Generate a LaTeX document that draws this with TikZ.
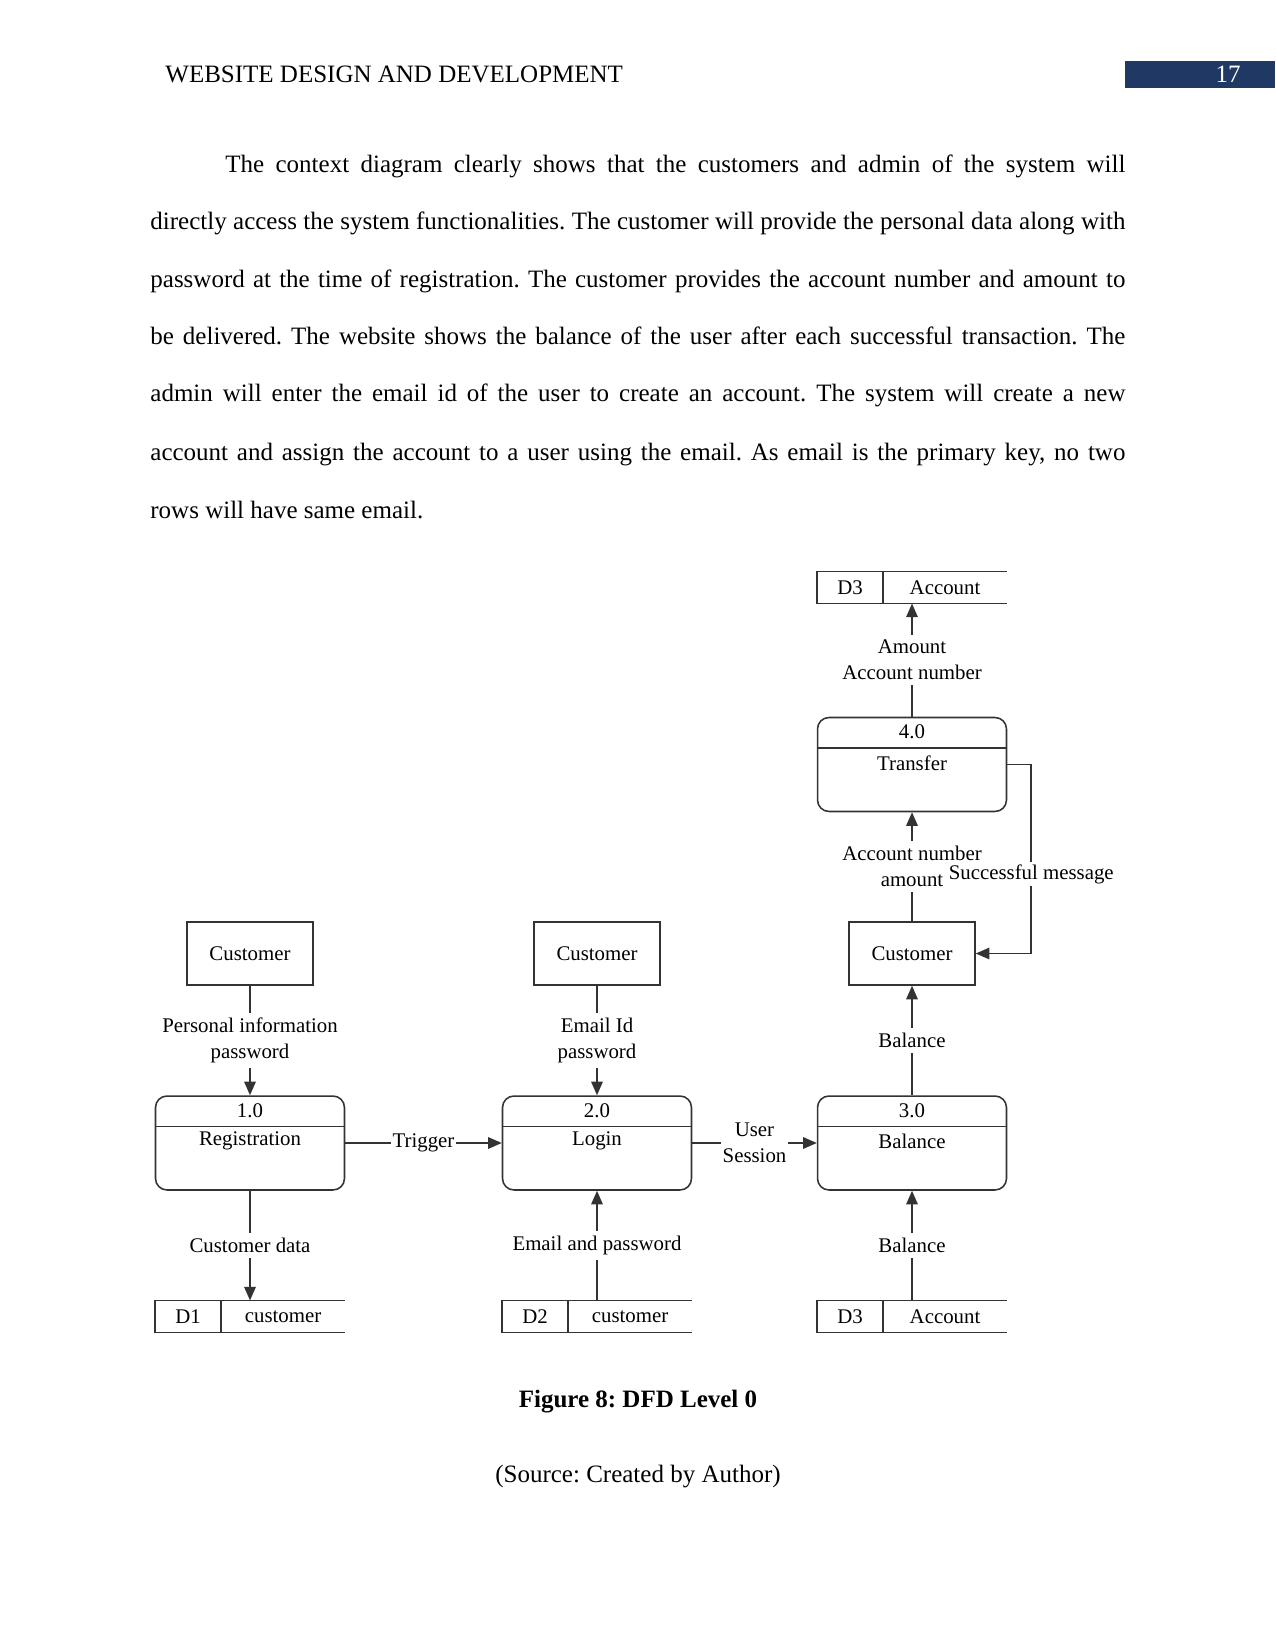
\documentclass[tikz,border=0pt]{standalone}
\usepackage{fontspec}
\setmainfont{Liberation Serif}
\usepackage{tikz}
\usetikzlibrary{positioning, arrows.meta, calc}
\definecolor{headbar}{HTML}{1F3864}
\definecolor{ink}{HTML}{333333}
\frenchspacing

\begin{document}
\begin{tikzpicture}[x=0.48pt, y=-0.48pt,
      every node/.style={font=\fontsize{10}{12.5}\selectfont, inner sep=0pt},
      body/.style={font=\fontsize{12}{14}\selectfont, anchor=base west},
      ext/.style={draw=ink, line width=0.75pt,
        minimum width=60.5pt, minimum height=30.2pt},
      proc/.style={draw=ink, line width=0.75pt, rounded corners=5.5pt,
        minimum width=90.7pt, minimum height=45.1pt},
      store/.style={minimum width=90.7pt, minimum height=15pt},
      line/.style={draw=ink, line width=0.75pt},
      flow/.style={line, -{Triangle[length=6.5pt, width=5.5pt]}},
      lbl/.style={fill=white, align=center, inner xsep=1pt, inner ysep=2.5pt}]

    \useasboundingbox (0,0) rectangle (1275,1650);

    \fill[headbar] (1125,61) rectangle (1275,88);
    \node[body] (runhead) at (165,83) {WEBSITE DESIGN AND DEVELOPMENT};
    \node[body, anchor=base, text=white] (pagenum) at (1228,83) {17};

    \node[body] (ln1) at (225,173) {\makebox[432pt][s]{The context diagram clearly shows that the customers and admin of the system will}};
    \node[body] (ln2) at (150,230) {\makebox[468pt][s]{directly access the system functionalities. The customer will provide the personal data along with}};
    \node[body] (ln3) at (150,288) {\makebox[468pt][s]{password at the time of registration. The customer provides the account number and amount to}};
    \node[body] (ln4) at (150,345) {\makebox[468pt][s]{be delivered. The website shows the balance of the user after each successful transaction. The}};
    \node[body] (ln5) at (150,402) {\makebox[468pt][s]{admin will enter the email id of the user to create an account. The system will create a new}};
    \node[body] (ln6) at (150,460) {\makebox[468pt][s]{account and assign the account to a user using the email. As email is the primary key, no two}};
    \node[body] (ln7) at (150,518) {rows will have same email.};

    \foreach \n/\x/\y/\num/\name in {p1/250/1143/1.0/Registration,
        p2/597/1143/2.0/Login, p3/912/1143/3.0/Balance, p4/912/764.5/4.0/Transfer} {
      \node[proc] (\n) at (\x,\y) {};
      \draw[line] ([yshift=-14.9pt]\n.north west) -- ([yshift=-14.9pt]\n.north east);
      \node (\n-num) at ([yshift=-7.2pt]\n.north) {\num};
      \node (\n-name) at ([yshift=-22.1pt]\n.north) {\name};
    }

    \foreach \n/\x in {c1/250, c2/597, c3/912}
      \node[ext] (\n) at (\x,953.5) {Customer};

    \foreach \n/\x/\y/\id/\name in {s1/250/1316.5/D1/customer,
        s2/597/1316.5/D2/customer, s3/912/1316.5/D3/Account, s4/912/587.5/D3/Account} {
      \node[store] (\n) at (\x,\y) {};
      \draw[line] (\n.north east) -- (\n.north west) -- (\n.south west) -- (\n.south east);
      \draw[line] ([xshift=31.7pt]\n.north west) -- ([xshift=31.7pt]\n.south west);
      \node (\n-id) at ([xshift=15.8pt]\n.west) {\id};
      \node (\n-name) at ($([xshift=31.7pt]\n.west)!0.5!(\n.east)$) {\name};
    }

    \draw[flow] (c1) -- node[lbl, midway] {Personal information\\password} (p1);
    \draw[flow] (p1) -- node[lbl, midway] {Customer data} (s1);
    \draw[flow] (p1) -- node[lbl, midway] {Trigger} (p2);
    \draw[flow] (c2) -- node[lbl, midway] {Email Id\\password} (p2);
    \draw[flow] (s2) -- node[lbl, midway] {Email and password} (p2);
    \draw[flow] (p2) -- node[lbl, midway] {User\\Session} (p3);
    \draw[flow] (s3) -- node[lbl, midway] {Balance} (p3);
    \draw[flow] (p3) -- node[lbl, midway] {Balance} (c3);
    \draw[flow] (c3) -- node[lbl, midway] {Account number\\amount} (p4);
    \draw[flow] (p4) -- node[lbl, midway] {Amount\\Account number} (s4);
    \draw[flow] (p4.east) -- ++(24,0)
      |- node[lbl, pos=0.29, inner ysep=1pt] {Successful message} (c3.east);

    \node[body, anchor=base, font=\fontsize{12}{14}\selectfont\bfseries] (caption) at (638,1407) {Figure 8: DFD Level 0};
    \node[body, anchor=base] (source) at (638,1482) {(Source: Created by Author)};
  \end{tikzpicture}
\end{document}
